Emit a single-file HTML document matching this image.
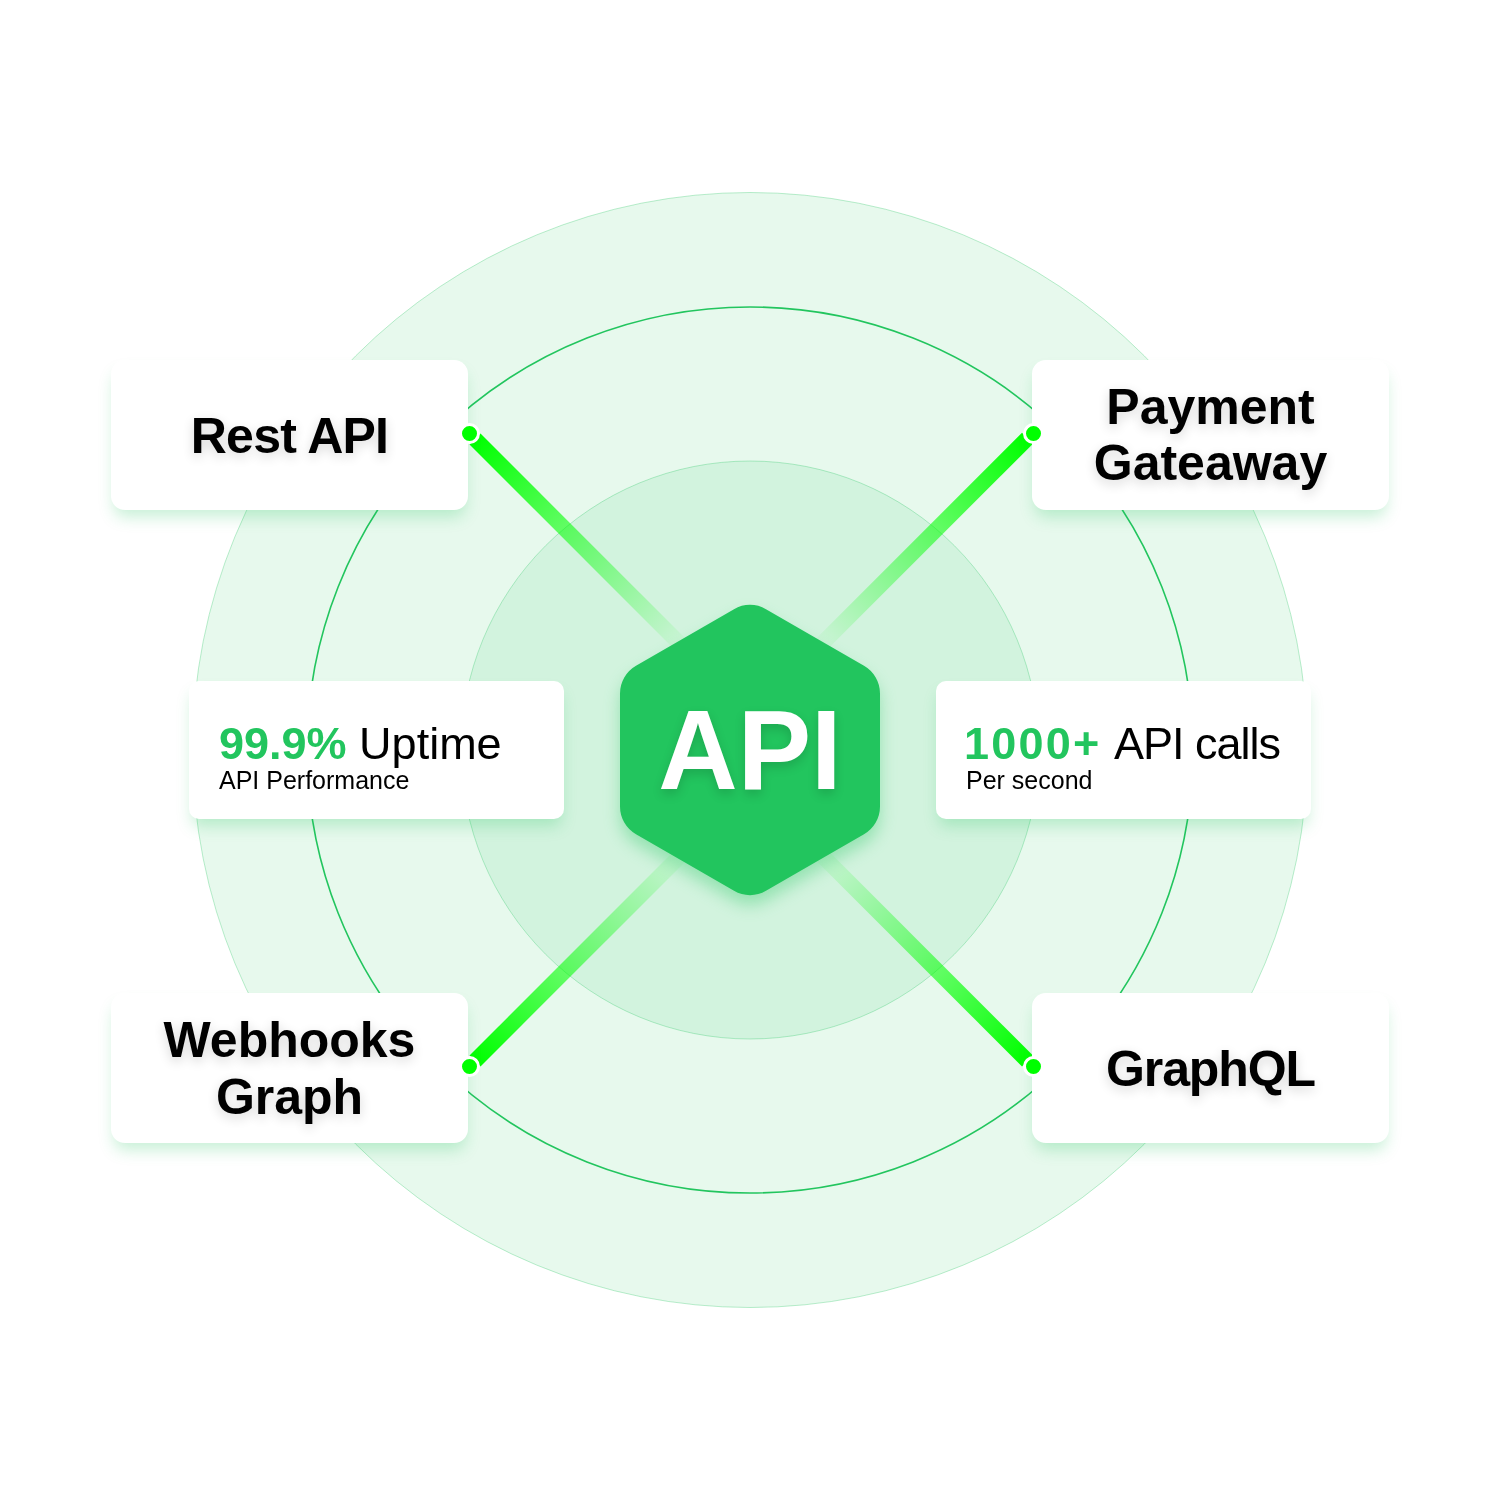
<!DOCTYPE html>
<html><head><meta charset="utf-8">
<style>
html,body{margin:0;padding:0;width:1500px;height:1500px;overflow:hidden;background:#ffffff;}
body{position:relative;font-family:"Liberation Sans",sans-serif;-webkit-font-smoothing:antialiased;}
.card{will-change:transform;}
.abs{position:absolute;left:0;top:0;}
.card{position:absolute;background:#ffffff;border-radius:14px;box-shadow:0 10px 15px -3px rgba(34,197,94,0.25);}
.stat{border-radius:10px;}
.title{position:absolute;left:0;width:100%;text-align:center;font-weight:bold;font-size:50px;line-height:56.3px;color:#000;text-shadow:0 4px 12px rgba(0,0,0,0.16);white-space:nowrap;}
.big{position:absolute;left:30px;font-size:45px;line-height:45px;white-space:nowrap;color:#000;}
.big b{color:#22c55e;}
.sub{position:absolute;left:30px;font-size:25px;line-height:25px;white-space:nowrap;color:#000;}
.dot{position:absolute;width:15px;height:15px;border-radius:50%;background:#00ff00;border:3px solid #fff;}
</style></head><body>
<svg class="abs" width="1500" height="1500" viewBox="0 0 1500 1500">
  <defs>
    <linearGradient id="gTL" gradientUnits="userSpaceOnUse" x1="475" y1="439" x2="687" y2="651">
      <stop offset="0" stop-color="#00ff00" stop-opacity="1"/>
      <stop offset="1" stop-color="#00ff00" stop-opacity="0"/>
    </linearGradient>
    <linearGradient id="gTR" gradientUnits="userSpaceOnUse" x1="1027.5" y1="438.2" x2="815.5" y2="650.2">
      <stop offset="0" stop-color="#00ff00" stop-opacity="1"/>
      <stop offset="1" stop-color="#00ff00" stop-opacity="0"/>
    </linearGradient>
    <linearGradient id="gBL" gradientUnits="userSpaceOnUse" x1="475" y1="1061" x2="687" y2="849">
      <stop offset="0" stop-color="#00ff00" stop-opacity="1"/>
      <stop offset="1" stop-color="#00ff00" stop-opacity="0"/>
    </linearGradient>
    <linearGradient id="gBR" gradientUnits="userSpaceOnUse" x1="1027.5" y1="1061" x2="815.5" y2="849">
      <stop offset="0" stop-color="#00ff00" stop-opacity="1"/>
      <stop offset="1" stop-color="#00ff00" stop-opacity="0"/>
    </linearGradient>
  </defs>
  <circle cx="750" cy="750" r="557.5" fill="rgba(34,197,94,0.11)" stroke="rgba(34,197,94,0.3)" stroke-width="1"/>
  <circle cx="750" cy="750" r="443" fill="none" stroke="#22c55e" stroke-width="1.6"/>
  <circle cx="750" cy="750" r="289" fill="rgba(34,197,94,0.1)" stroke="rgba(34,197,94,0.3)" stroke-width="1"/>
  <line x1="475" y1="439" x2="760" y2="724" stroke="url(#gTL)" stroke-width="15.5"/>
  <line x1="1027.5" y1="438.2" x2="742.5" y2="723.2" stroke="url(#gTR)" stroke-width="15.5"/>
  <line x1="475" y1="1061" x2="760" y2="776" stroke="url(#gBL)" stroke-width="15.5"/>
  <line x1="1027.5" y1="1061" x2="742.5" y2="776" stroke="url(#gBR)" stroke-width="15.5"/>
</svg>

<div class="card" style="left:111px;top:360px;width:357px;height:150px;">
  <div class="title" style="top:47.6px;letter-spacing:-0.8px;">Rest API</div>
</div>
<div class="card" style="left:1032px;top:360px;width:357px;height:150px;">
  <div class="title" style="top:18.9px;">Payment<br>Gateaway</div>
</div>
<div class="card" style="left:111px;top:993px;width:357px;height:150px;">
  <div class="title" style="top:19.3px;">Webhooks<br>Graph</div>
</div>
<div class="card" style="left:1032px;top:993px;width:357px;height:150px;">
  <div class="title" style="top:47.5px;letter-spacing:-1.1px;">GraphQL</div>
</div>

<div class="card stat" style="left:189px;top:681px;width:375px;height:138px;">
  <div class="big" style="top:39.5px;"><b>99.9%</b> Uptime</div>
  <div class="sub" style="top:86.8px;">API Performance</div>
</div>
<div class="card stat" style="left:936px;top:681px;width:375px;height:138px;">
  <div class="big" style="top:39.5px;left:28px;"><b style="letter-spacing:2.2px;">1000+</b> <span style="letter-spacing:-1px;">API calls</span></div>
  <div class="sub" style="top:86.8px;">Per second</div>
</div>

<div class="dot" style="left:458.8px;top:422.8px;"></div>
<div class="dot" style="left:1023px;top:422.8px;"></div>
<div class="dot" style="left:458.8px;top:1056px;"></div>
<div class="dot" style="left:1023px;top:1056px;"></div>

<svg class="abs" width="1500" height="1500" viewBox="0 0 1500 1500" style="filter:drop-shadow(0 10px 8px rgba(34,197,94,0.35));">
  <path fill="#22c55e" d="M734.00 609.13 A32.00 32.00 0 0 1 766.00 609.13 L864.00 665.71 A32.00 32.00 0 0 1 880.00 693.42 L880.00 806.58 A32.00 32.00 0 0 1 864.00 834.29 L766.00 890.87 A32.00 32.00 0 0 1 734.00 890.87 L636.00 834.29 A32.00 32.00 0 0 1 620.00 806.58 L620.00 693.42 A32.00 32.00 0 0 1 636.00 665.71 Z"/>
</svg>
<div class="abs" style="left:620px;top:605px;width:260px;height:290px;">
  <div style="position:absolute;left:0;width:100%;top:90.8px;text-align:center;font-weight:bold;font-size:110px;line-height:110px;color:#fff;transform-origin:50% 93.1px;transform:scaleY(1.035);text-shadow:0 5px 10px rgba(0,0,0,0.15);">API</div>
</div>
</body></html>
